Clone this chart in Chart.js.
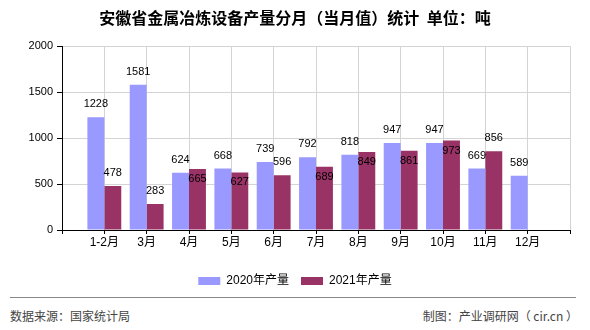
<!DOCTYPE html>
<html>
<head>
<meta charset="utf-8">
<script src="https://cdn.jsdelivr.net/npm/chart.js@4/dist/chart.umd.min.js"></script>
<style>
  html, body { margin: 0; padding: 0; background: #fff; }
  #wrap { position: relative; width: 590px; height: 330px; }
  #chart { position: absolute; left: 0; top: 0; }
  .rule { position: absolute; left: 10px; top: 297px; width: 566px; height: 0; border-top: 1px solid #888; }
  .foot { position: absolute; top: 307px; font: 12px "Noto Sans CJK SC", sans-serif; color: #444; }
</style>
</head>
<body>
<div id="wrap">
  <canvas id="chart" width="590" height="297"></canvas>
  <div class="rule"></div>
  <div class="foot" style="left:10px">数据来源：国家统计局</div>
  <div class="foot" style="right:12px">制图：产业调研网（ cir.cn ）</div>
</div>
<script>
// ===== Data =====
const months = ['1-2月', '3月', '4月', '5月', '6月', '7月', '8月', '9月', '10月', '11月', '12月'];
const output2020 = [1228, 1581, 624, 668, 739, 792, 818, 947, 947, 669, 589];
const output2021 = [478, 283, 665, 627, 596, 689, 849, 861, 973, 856, null];
const seriesNames = ['2020年产量', '2021年产量'];
const yMax = 2000;
const yStep = 500;

const FONT = '"Liberation Sans", "Noto Sans CJK SC", sans-serif';

// categories sit on the grid lines, with an empty slot at each end
const axisLabels = [''].concat(months, ['']);
const pad = arr => [null].concat(arr, [null]);

// value labels: 2021 label drops inside its bar when it would hit the 2020 one
const valueLabels = {
  id: 'valueLabels',
  afterDatasetsDraw(chart) {
    const ctx = chart.ctx;
    const m0 = chart.getDatasetMeta(0);
    const m1 = chart.getDatasetMeta(1);
    ctx.save();
    ctx.font = '11px ' + FONT;
    ctx.fillStyle = '#000';
    ctx.textAlign = 'center';
    ctx.textBaseline = 'middle';
    m0.data.forEach((bar, i) => {
      const v0 = chart.data.datasets[0].data[i];
      const v1 = chart.data.datasets[1].data[i];
      let y0 = null;
      if (v0 != null) {
        y0 = bar.y - 13;
        ctx.fillText(v0, bar.x, y0);
      }
      if (v1 != null) {
        const b1 = m1.data[i];
        let y1 = b1.y - 13;
        if (y0 != null && Math.abs(y1 - y0) < 12) y1 = b1.y + 10;
        ctx.fillText(v1, b1.x, y1);
      }
    });
    ctx.restore();
  }
};

new Chart(document.getElementById('chart'), {
  type: 'bar',
  data: {
    labels: axisLabels,
    datasets: [
      { label: seriesNames[0], data: pad(output2020), backgroundColor: '#9999ff' },
      { label: seriesNames[1], data: pad(output2021), backgroundColor: '#993366' }
    ]
  },
  options: {
    responsive: false,
    animation: false,
    categoryPercentage: 0.8,
    barPercentage: 1.0,
    layout: { padding: { left: 20, right: 20, top: 0, bottom: 0 } },
    plugins: {
      title: {
        display: true,
        text: '安徽省金属冶炼设备产量分月（当月值）统计  单位：吨',
        color: '#000',
        font: { family: '"Noto Sans CJK SC", sans-serif', size: 16, weight: 'bold' },
        padding: { top: 8, bottom: 19 }
      },
      legend: {
        position: 'bottom',
        labels: {
          color: '#000',
          font: { family: FONT, size: 12 },
          boxWidth: 22,
          boxHeight: 8,
          padding: 12
        }
      },
      tooltip: { enabled: false }
    },
    scales: {
      x: {
        offset: false,
        grid: { offset: false, color: '#d4d4d4', tickColor: '#000', tickLength: 4 },
        border: { color: '#000', width: 1 },
        ticks: { color: '#000', font: { family: FONT, size: 12 }, autoSkip: false, maxRotation: 0, padding: 1 },
        afterFit: s => { s.height = 33; }
      },
      y: {
        min: 0,
        max: yMax,
        grid: { color: '#d4d4d4', tickColor: '#000', tickLength: 5 },
        border: { color: '#000', width: 1 },
        ticks: { stepSize: yStep, color: '#000', font: { family: FONT, size: 11 }, padding: 4,
                 callback: v => String(v) },
        afterFit: s => { s.width = 42; }
      }
    }
  },
  plugins: [valueLabels]
});
</script>
</body>
</html>
